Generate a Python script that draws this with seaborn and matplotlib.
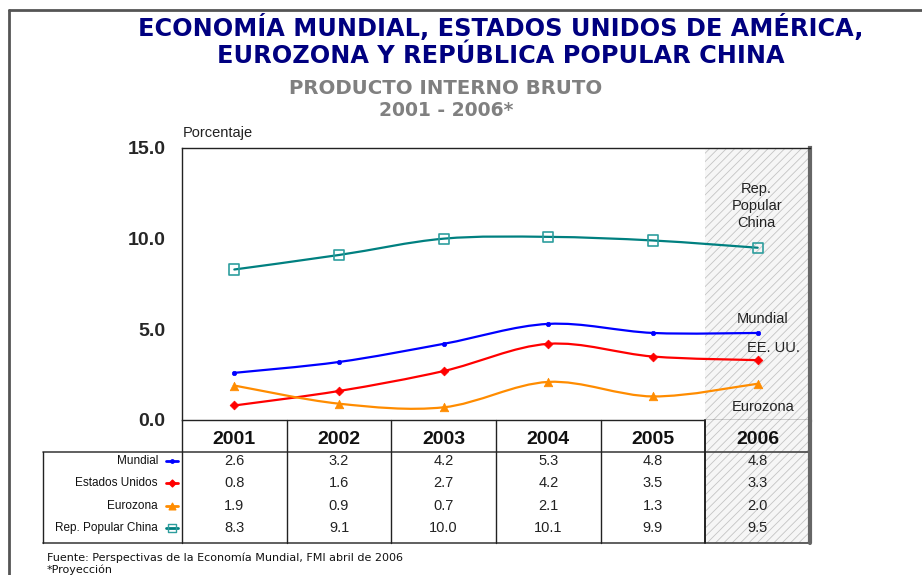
import numpy as np
import matplotlib
matplotlib.use("Agg")
import matplotlib.pyplot as plt
import seaborn as sns
from matplotlib.path import Path
from matplotlib.patches import PathPatch, Rectangle
from matplotlib.lines import Line2D

# ---------------- data ----------------
years = ["2001", "2002", "2003", "2004", "2005", "2006"]
mundial = [2.6, 3.2, 4.2, 5.3, 4.8, 4.8]
eeuu = [0.8, 1.6, 2.7, 4.2, 3.5, 3.3]
eurozona = [1.9, 0.9, 0.7, 2.1, 1.3, 2.0]
china = [8.3, 9.1, 10.0, 10.1, 9.9, 9.5]
row_labels = ["Mundial", "Estados Unidos", "Eurozona", "Rep. Popular China"]
y_ticks = [0.0, 5.0, 10.0, 15.0]

sns.set_theme(style="white")
plt.rcParams["font.family"] = ["Liberation Sans", "DejaVu Sans"]
plt.rcParams["hatch.linewidth"] = 0.6

W, H = 922, 575
fig = plt.figure(figsize=(W / 100, H / 100), dpi=100)
fig.patch.set_facecolor("white")


def fx(px):
    return px / W


def fy(py):
    return 1 - py / H


# axes geometry (pixels)
L, R, T, B = 182, 810, 148, 420
ax = fig.add_axes([fx(L), fy(B), (R - L) / W, (B - T) / H])
TL, TB = 43, 543
tab = fig.add_axes([fx(TL), fy(TB), (R - TL) / W, (TB - B) / H])

ncol = len(years)
colw = (R - L) / ncol
xleft = -(L - TL) / colw

series = [
    (mundial, "#0000FF", "o", 10, "#0000FF", "#0000FF"),
    (eeuu, "#FF0000", "D", 20, "#FF0000", "#FF0000"),
    (eurozona, "#FF8C00", "^", 38, "#FF8C00", "#FF8C00"),
    (china, "#008080", "s", 55, "none", "#2E9E9E"),
]

xs = np.arange(ncol) + 0.5

# hatched projection column
hatch_kw = dict(facecolor="#F6F6F6", edgecolor="#C4C4C4", hatch="////", linewidth=0, zorder=0)
ax.add_patch(Rectangle((ncol - 1, 0), 1, 15, **hatch_kw))
tab.add_patch(Rectangle((ncol - 1, 0), 1, TB - B, **hatch_kw))


def smooth_path(xv, yv):
    pts = np.column_stack([xv, yv])
    n = len(pts)
    verts = [pts[0]]
    codes = [Path.MOVETO]
    for i in range(n - 1):
        p0 = pts[i - 1] if i > 0 else pts[i]
        p1 = pts[i]
        p2 = pts[i + 1]
        p3 = pts[i + 2] if i + 2 < n else pts[i + 1]
        c1 = p1 + (p2 - p0) / 6.0
        c2 = p2 - (p3 - p1) / 6.0
        verts += [c1, c2, p2]
        codes += [Path.CURVE4] * 3
    return Path(verts, codes)


for vals, col, mk, s, fc, ec in series:
    ax.add_patch(PathPatch(smooth_path(xs, vals), facecolor="none", edgecolor=col,
                           linewidth=1.6, zorder=3, capstyle="round"))
    sns.scatterplot(x=xs, y=vals, marker=mk, s=s, color=col, ax=ax, zorder=4,
                    facecolor=fc, edgecolor=ec, linewidth=1.2 if fc == "none" else 0.5,
                    legend=False)

ax.set_xlim(0, ncol)
ax.set_ylim(0, 15)
ax.set_xticks([])
ax.set_yticks(y_ticks)
ax.set_yticklabels([f"{v:.1f}" for v in y_ticks], fontsize=14, fontweight="bold")
ax.tick_params(axis="y", length=0, pad=12)
ax.set_xlabel("")
ax.set_ylabel("")
ax.set_facecolor("none")
for sp in ["left", "top", "bottom"]:
    ax.spines[sp].set_color("#222222")
    ax.spines[sp].set_linewidth(1.0)
ax.spines["right"].set_color("#666666")
ax.spines["right"].set_linewidth(3)

# series labels on the right
lab_kw = dict(fontsize=10.5, color="#222222", ha="center", va="center")
ax.text(5.49, 11.8, "Rep.\nPopular\nChina", linespacing=1.3, **lab_kw)
ax.text(5.55, 5.57, "Mundial", **lab_kw)
ax.text(5.65, 3.97, "EE. UU.", **lab_kw)
ax.text(5.55, 0.72, "Eurozona", **lab_kw)

# ---------------- table ----------------
tab.set_xlim(xleft, ncol)
tab.set_ylim(TB - B, 0)
tab.axis("off")
hdr = 452 - B
lc = "#222222"
tab.plot([xleft, ncol], [hdr, hdr], color="#444444", lw=1.2, clip_on=False)
tab.plot([xleft, ncol], [TB - B, TB - B], color="#444444", lw=1.2, clip_on=False)
tab.plot([xleft, xleft], [hdr, TB - B], color=lc, lw=1.0, clip_on=False)
for i in range(ncol):
    tab.plot([i, i], [0, TB - B], color=lc, lw=1.0 if i != ncol - 1 else 1.4, clip_on=False)
tab.plot([ncol, ncol], [0, TB - B], color="#666666", lw=3, clip_on=False)

for i, yr in enumerate(years):
    tab.text(i + 0.5, 20, yr, ha="center", va="center", fontsize=14, fontweight="bold",
             color="#111111")

row_y = [461 - B, 483 - B, 506 - B, 528 - B]
for (vals, col, mk, s, fc, ec), lab, ry in zip(series, row_labels, row_y):
    tab.text(xleft + (158 - TL) / colw, ry, lab, ha="right", va="center", fontsize=8.5,
             color="#111111")
    lx0 = xleft + (166 - TL) / colw
    lx1 = xleft + (178 - TL) / colw
    tab.plot([lx0, lx1], [ry, ry], color=col, lw=2)
    tab.scatter([(lx0 + lx1) / 2], [ry], marker=mk, s=s * 0.6, facecolor=fc, edgecolor=ec,
                linewidth=1.0, zorder=3)
    for i, v in enumerate(vals):
        tab.text(i + 0.5, ry, f"{v:.1f}", ha="center", va="center", fontsize=10.5,
                 color="#222222")

# ---------------- titles ----------------
tfam = ["DejaVu Sans"]
fig.text(fx(501), fy(27), "ECONOMÍA MUNDIAL, ESTADOS UNIDOS DE AMÉRICA,", ha="center",
         va="center", fontsize=17.3, fontweight="bold", color="#000080", family=tfam)
fig.text(fx(501), fy(56), "EUROZONA Y REPÚBLICA POPULAR CHINA", ha="center",
         va="center", fontsize=17.3, fontweight="bold", color="#000080", family=tfam)
fig.text(fx(446), fy(89), "PRODUCTO INTERNO BRUTO", ha="center", va="center",
         fontsize=14.2, fontweight="bold", color="#808080", family=tfam)
fig.text(fx(446), fy(111), "2001 - 2006*", ha="center", va="center",
         fontsize=13.5, fontweight="bold", color="#808080", family=tfam)
fig.text(fx(183), fy(133), "Porcentaje", ha="left", va="center", fontsize=10.5,
         color="#222222")

fig.text(fx(47), fy(558), "Fuente: Perspectivas de la Economía Mundial, FMI abril de 2006",
         ha="left", va="center", fontsize=8, color="#111111", family=tfam)
fig.text(fx(47), fy(570), "*Proyección", ha="left", va="center", fontsize=8,
         color="#111111", family=tfam)

# outer frame
fig.add_artist(Line2D([fx(9), fx(9)], [fy(10), 0], color="#555555", lw=2))
fig.add_artist(Line2D([fx(9), 1], [fy(10), fy(10)], color="#555555", lw=2))

fig.savefig("out.png", dpi=100, facecolor="white")
